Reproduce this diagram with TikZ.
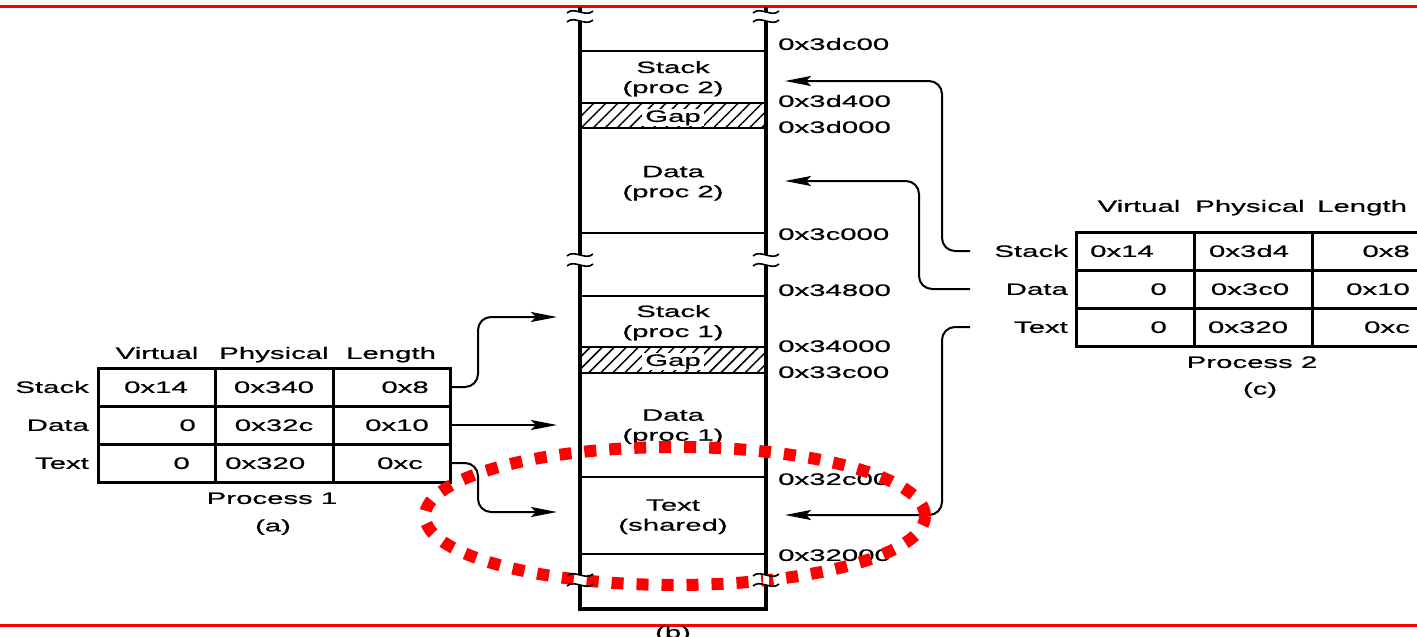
\documentclass[tikz,border=0pt]{standalone}
\usepackage{fontspec}
\setmainfont{Liberation Sans}[FakeStretch=1.78, FakeBold=0.7]
\usetikzlibrary{arrows.meta,patterns.meta}

\tikzset{
  txt/.style={inner sep=0pt, text height=11.8pt, text depth=0pt,
    font=\fontsize{16.5}{20}\selectfont},
  block/.style={inner sep=0pt, align=center, font=\fontsize{16.5}{20}\selectfont},
  gaplabel/.style={txt, fill=white, inner xsep=3pt, inner ysep=1pt, text depth=3.5pt},
  cell/.style={draw, line width=3pt, minimum height=38pt, inner sep=0pt},
  wall/.style={line width=4pt},
  divider/.style={line width=2.8pt},
  conn/.style={line width=2pt, rounded corners=13pt,
    -{Stealth[length=26pt,width=10pt,inset=5pt]}},
  hatch/.style={pattern={Lines[angle=45,distance=8.5pt,line width=1.5pt]}},
  squiggle/.style={line width=1.6pt},
  redrule/.style={draw=red, line width=3pt},
  ring/.style={draw=red, line width=12pt, dash pattern=on 12pt off 13pt},
}

\begin{document}
\begin{tikzpicture}[x=1pt, y=-1pt]
\useasboundingbox (0,0) rectangle (1417,637);

% top and bottom rules
\draw[redrule] (0,6) -- (1417,6);
\draw[redrule] (0,625) -- (1417,625);

% ---------- physical memory column (b) ----------
\fill[hatch] (580,103) rectangle (766,128);
\fill[hatch] (580,347) rectangle (766,373);
\draw[wall] (580,7) -- (580,609) -- (766,609) -- (766,7);
\foreach \y in {51,103,128,233,296,347,373,477,554}
  \draw[divider] (580,\y) -- (766,\y);

% segment names
\node[block] (stk2) at (673,78.75) {Stack\\(proc 2)};
\node[gaplabel] (gap2) at (673,117.75) {Gap};
\node[block] (dat2) at (673,183.25) {Data\\(proc 2)};
\node[block] (stk1) at (673,322.75) {Stack\\(proc 1)};
\node[gaplabel] (gap1) at (673,361.75) {Gap};
\node[block] (dat1) at (673,426.75) {Data\\(proc 1)};
\node[block] (txsh) at (673,516.75) {Text\\(shared)};

% addresses
\node[txt, anchor=west] (m3dc00) at (778,44)  {0x3dc00};
\node[txt, anchor=west] (m3d400) at (778,101) {0x3d400};
\node[txt, anchor=west] (m3d000) at (778,127) {0x3d000};
\node[txt, anchor=west] (m3c000) at (778,234) {0x3c000};
\node[txt, anchor=west] (m34800) at (778,290) {0x34800};
\node[txt, anchor=west] (m34000) at (778,346) {0x34000};
\node[txt, anchor=west] (m33c00) at (778,372) {0x33c00};
\node[txt, anchor=west] (m32c00) at (778,479) {0x32c00};
\node[txt, anchor=west] (m32000) at (778,555) {0x32000};

\node[txt, anchor=base] (capb) at (673,638) {(b)};

% ---------- segment table of process 1 (a) ----------
\node[txt] (ahv) at (157,353) {Virtual};
\node[txt] (ahp) at (274,353) {Physical};
\node[txt] (ahl) at (391,353) {Length};
\node[txt, anchor=east] (ars) at (89,387) {Stack};
\node[txt, anchor=east] (ard) at (89,425) {Data};
\node[txt, anchor=east] (art) at (89,463) {Text};

\node[cell, minimum width=117pt] (avs) at (156.5,387) {};
\node[cell, minimum width=118pt] (aps) at (274,387)   {};
\node[cell, minimum width=117pt] (als) at (391.5,387) {};
\node[cell, minimum width=117pt] (avd) at (156.5,425) {};
\node[cell, minimum width=118pt] (apd) at (274,425)   {};
\node[cell, minimum width=117pt] (ald) at (391.5,425) {};
\node[cell, minimum width=117pt] (avt) at (156.5,463) {};
\node[cell, minimum width=118pt] (apt) at (274,463)   {};
\node[cell, minimum width=117pt] (alt) at (391.5,463) {};

\node[txt] (avs-t) at (156,387) {0x14};
\node[txt] (aps-t) at (274,387) {0x340};
\node[txt, anchor=east] (als-t) at (429,387) {0x8};
\node[txt, anchor=east] (avd-t) at (196,425) {0};
\node[txt] (apd-t) at (274,425) {0x32c};
\node[txt, anchor=east] (ald-t) at (429,425) {0x10};
\node[txt, anchor=east] (avt-t) at (190,463) {0};
\node[txt, anchor=west] (apt-t) at (225,463) {0x320};
\node[txt, anchor=east] (alt-t) at (423,463) {0xc};

\node[txt] (aproc) at (272,498) {Process 1};
\node[txt] (capa) at (273,525.5) {(a)};

% ---------- segment table of process 2 (c) ----------
\node[txt] (chv) at (1139,206) {Virtual};
\node[txt] (chp) at (1250,206) {Physical};
\node[txt] (chl) at (1362,206) {Length};
\node[txt, anchor=east] (crs) at (1068,251) {Stack};
\node[txt, anchor=east] (crd) at (1068,289) {Data};
\node[txt, anchor=east] (crt) at (1068,327) {Text};

\node[cell, minimum width=118pt] (cvs) at (1135,251) {};
\node[cell, minimum width=118pt] (cps) at (1253,251) {};
\node[cell, minimum width=118pt] (cls) at (1371,251) {};
\node[cell, minimum width=118pt] (cvd) at (1135,289) {};
\node[cell, minimum width=118pt] (cpd) at (1253,289) {};
\node[cell, minimum width=118pt] (cld) at (1371,289) {};
\node[cell, minimum width=118pt] (cvt) at (1135,327) {};
\node[cell, minimum width=118pt] (cpt) at (1253,327) {};
\node[cell, minimum width=118pt] (clt) at (1371,327) {};

\node[txt] (cvs-t) at (1122,251) {0x14};
\node[txt] (cps-t) at (1249,251) {0x3d4};
\node[txt, anchor=east] (cls-t) at (1410,251) {0x8};
\node[txt, anchor=east] (cvd-t) at (1167,289) {0};
\node[txt] (cpd-t) at (1250,289) {0x3c0};
\node[txt, anchor=east] (cld-t) at (1410,289) {0x10};
\node[txt, anchor=east] (cvt-t) at (1167,327) {0};
\node[txt] (cpt-t) at (1248,327) {0x320};
\node[txt, anchor=east] (clt-t) at (1410,327) {0xc};

\node[txt] (cproc) at (1252,362) {Process 2};
\node[txt] (capc) at (1260,388.5) {(c)};

% ---------- mapping arrows ----------
\coordinate (s1bend) at (478,317);
\coordinate (s1tip)  at (557,317);
\coordinate (d1tip)  at (557,425);
\coordinate (t1bend) at (478,512);
\coordinate (t1tip)  at (557,512);
\draw[conn] (als.east) -| (s1bend) -- (s1tip);
\draw[conn] (ald.east) -- (d1tip);
\draw[conn] (alt.east) -| (t1bend) -- (t1tip);

\coordinate (s2from) at (970,251);
\coordinate (s2bend) at (942,81);
\coordinate (s2tip)  at (785,81);
\coordinate (d2from) at (970,289);
\coordinate (d2bend) at (919,181);
\coordinate (d2tip)  at (785,181);
\coordinate (t2from) at (970,327);
\coordinate (t2bend) at (942,515);
\coordinate (t2tip)  at (785,515);
\draw[conn] (s2from) -| (s2bend) -- (s2tip);
\draw[conn] (d2from) -| (d2bend) -- (d2tip);
\draw[conn] (t2from) -| (t2bend) -- (t2tip);

% highlight round the shared text segment
\draw[ring] (675,516) ellipse [x radius=250pt, y radius=69pt];

% broken-off marks on both walls, drawn over everything
\foreach \ya/\yb in {12/21,255/265,575/585}{
  \foreach \x in {580,766}{
    \fill[white] (\x-3,\ya) rectangle (\x+3,\yb);
    \draw[squiggle] (\x-13,\ya+1) .. controls (\x-6,\ya-6) and (\x+6,\ya+6) .. (\x+13,\ya-1);
    \draw[squiggle] (\x-13,\yb+1) .. controls (\x-6,\yb-6) and (\x+6,\yb+6) .. (\x+13,\yb-1);
  }
}
\end{tikzpicture}
\end{document}
